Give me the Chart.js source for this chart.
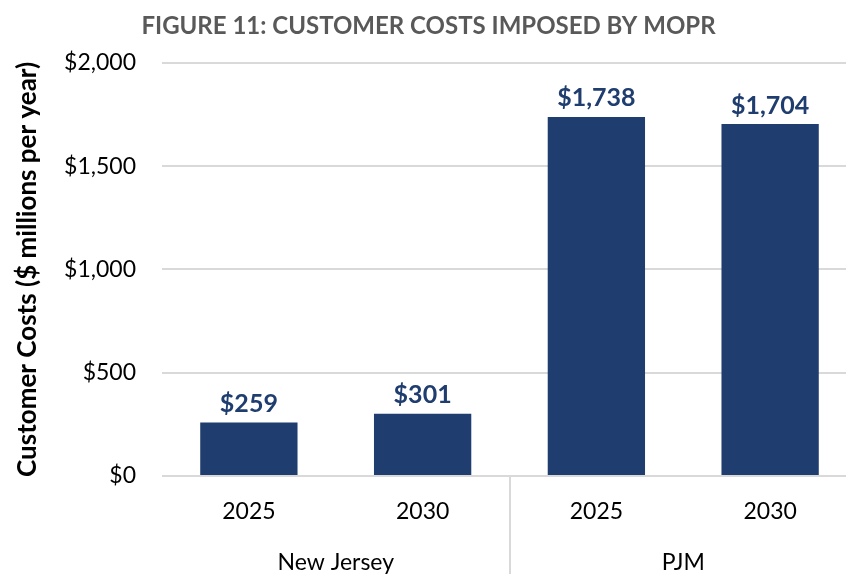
<!DOCTYPE html>
<html>
<head>
<meta charset="utf-8">
<script src="https://cdn.jsdelivr.net/npm/chart.js@4/dist/chart.umd.min.js"></script>
<style>
html,body{margin:0;padding:0;background:#fff;overflow:hidden;}
#wrap{width:860px;height:574px;}
</style>
</head>
<body>
<div id="wrap"><canvas id="c" width="860" height="574"></canvas></div>
<script>
const titleText = 'FIGURE 11: CUSTOMER COSTS IMPOSED BY MOPR';
const yTitle = 'Customer Costs ($ millions per year)';
const categories = ['2025', '2030', '2025', '2030'];
const groups = ['New Jersey', 'PJM'];
const groupIndex = [0, 0, 1, 1];
const values = [259, 301, 1738, 1704];
const yMin = 0, yMax = 2000, yStep = 500;

const NAVY = '#1F3D6E';
const FONT = 'Lato, "Open Sans", "DejaVu Sans", sans-serif';

const fmt = v => '$' + v.toLocaleString('en-US');

const extras = {
  id: 'extras',
  afterDatasetsDraw(chart) {
    const ctx = chart.ctx;
    const meta = chart.getDatasetMeta(0);
    ctx.save();
    ctx.fillStyle = NAVY;
    ctx.font = 'bold 25px ' + FONT;
    ctx.textAlign = 'center';
    ctx.textBaseline = 'bottom';
    meta.data.forEach((bar, i) => {
      ctx.fillText(fmt(values[i]), bar.x, bar.y - 6);
    });
    ctx.restore();
  },
  afterDraw(chart) {
    const ctx = chart.ctx;
    const xs = chart.scales.x;
    const area = chart.chartArea;
    ctx.save();
    ctx.fillStyle = '#000';
    ctx.font = '23px ' + FONT;
    ctx.textAlign = 'center';
    ctx.textBaseline = 'middle';
    groups.forEach((g, gi) => {
      const idx = groupIndex.map((v, i) => v === gi ? i : -1).filter(i => i >= 0);
      const x = (xs.getPixelForValue(idx[0]) + xs.getPixelForValue(idx[idx.length - 1])) / 2;
      ctx.fillText(g, x, 563);
    });
    ctx.strokeStyle = '#D9D9D9';
    ctx.lineWidth = 2;
    for (let i = 1; i < groupIndex.length; i++) {
      if (groupIndex[i] !== groupIndex[i - 1]) {
        const x = Math.round((xs.getPixelForValue(i - 1) + xs.getPixelForValue(i)) / 2);
        ctx.beginPath();
        ctx.moveTo(x, area.bottom);
        ctx.lineTo(x, chart.height);
        ctx.stroke();
      }
    }
    ctx.restore();
  }
};

new Chart(document.getElementById('c'), {
  type: 'bar',
  data: {
    labels: categories,
    datasets: [{
      data: values,
      backgroundColor: NAVY,
      borderWidth: 0,
      barPercentage: 0.56,
      categoryPercentage: 1.0
    }]
  },
  options: {
    responsive: false,
    animation: false,
    devicePixelRatio: 1,
    layout: { padding: { left: 0, right: 3, top: 0, bottom: 0 } },
    plugins: {
      legend: { display: false },
      tooltip: { enabled: false },
      title: {
        display: true,
        text: titleText,
        color: '#595959',
        font: { family: FONT, size: 24, weight: 'bold' },
        padding: { top: 12, bottom: 22 }
      }
    },
    scales: {
      x: {
        grid: { display: false, drawTicks: false },
        border: { display: false },
        ticks: { color: '#000', font: { family: FONT, size: 23 }, padding: 22 },
        afterFit(s) { s.height = 98; }
      },
      y: {
        min: yMin, max: yMax,
        grid: { color: '#D9D9D9', lineWidth: 2, drawTicks: false },
        border: { display: false },
        ticks: {
          stepSize: yStep,
          color: '#000',
          font: { family: FONT, size: 23 },
          padding: 26,
          callback: v => fmt(v)
        },
        title: {
          display: true,
          text: yTitle,
          color: '#000',
          font: { family: FONT, size: 26, weight: 'bold' },
          padding: { top: 12, bottom: 0 }
        },
        afterFit(s) { s.width = 162; }
      }
    }
  },
  plugins: [extras]
});
</script>
</body>
</html>
